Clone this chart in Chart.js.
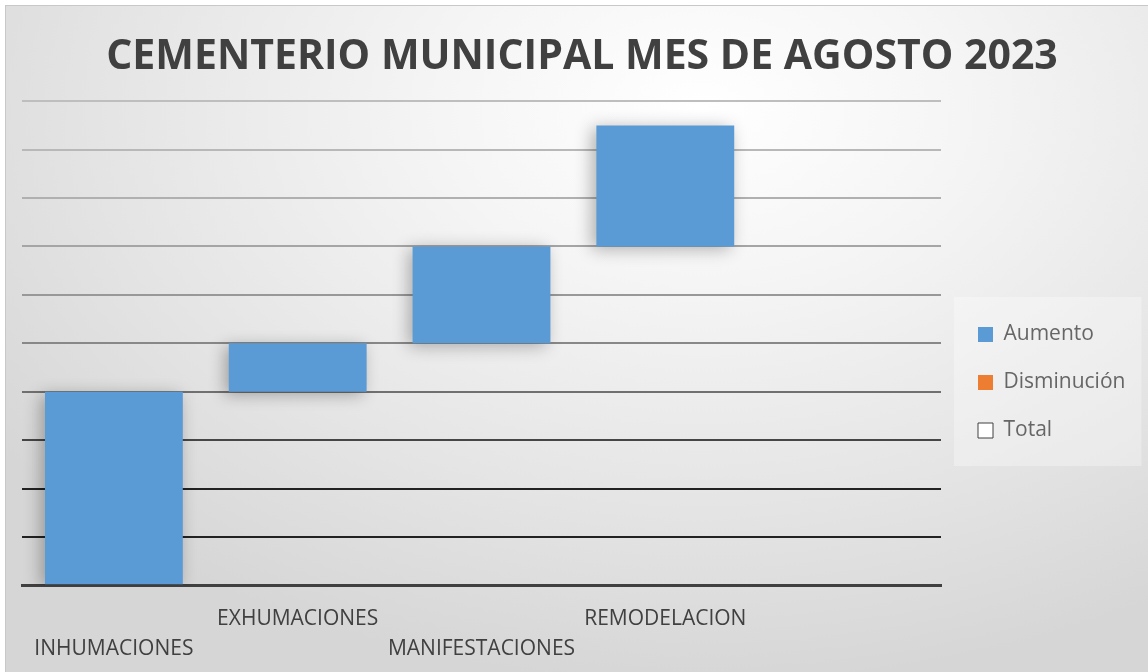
<!DOCTYPE html>
<html>
<head>
<meta charset="utf-8">
<script src="https://cdn.jsdelivr.net/npm/chart.js@4"></script>
<style>
  html, body { margin: 0; padding: 0; overflow: hidden; background: #ffffff; }
  #wrap {
    position: absolute; left: 5px; top: 5px; width: 1160px; height: 680px;
    border: 1px solid #c8c8c8;
    background: radial-gradient(ellipse 75% 85% at 60% 15%, #ffffff 0%, #f5f5f5 30%, #e4e4e4 70%, #d6d6d6 100%);
  }
</style>
</head>
<body>
<div id="wrap"><canvas id="myChart" width="1160" height="680"></canvas></div>
<script>
// 카테고리와 값
const categories = ['INHUMACIONES', 'EXHUMACIONES', 'MANIFESTACIONES', 'REMODELACION', ''];
const increments = [4, 1, 2, 2.5, null];
const legendNames = ['Aumento', 'Disminución', 'Total'];
const legendColors = ['#5b9bd5', '#ed7d31', '#ffffff'];

// 눈금선 회색 (아래 -> 위)
const gridGray = [64, 34, 34, 70, 112, 136, 152, 165, 176, 184, 190];

// 폭포형 막대 (시작, 끝)
let running = 0;
const floating = increments.map(v => {
    if (v === null) return null;
    const bar = [running, running + v];
    running += v;
    return bar;
});

const LEGEND_WIDTH = 201;
const LEGEND_SHIFT = 10;

// 범례 폭 고정 + 오른쪽으로 이동
const legendFit = {
    id: 'legendFit',
    afterInit(chart) {
        const lg = chart.legend;
        const fit = lg.fit.bind(lg);
        lg.fit = function () {
            fit();
            this.width = LEGEND_WIDTH;
        };
        const draw = lg.draw.bind(lg);
        lg.draw = function () {
            chart.ctx.save();
            chart.ctx.translate(LEGEND_SHIFT, 0);
            draw();
            chart.ctx.restore();
        };
    }
};

// 막대 그림자
const shadowPlugin = {
    id: 'barShadow',
    beforeDatasetsDraw(chart) {
        const c = chart.ctx;
        c.save();
        c.shadowColor = 'rgba(0,0,0,0.3)';
        c.shadowBlur = 16;
        c.shadowOffsetX = -4;
        c.shadowOffsetY = 3;
    },
    afterDatasetsDraw(chart) {
        chart.ctx.restore();
    }
};

// 범례 배경
const legendBox = {
    id: 'legendBox',
    beforeDraw(chart) {
        const boxes = chart.legend.legendHitBoxes;
        if (!boxes || !boxes.length) return;
        const first = boxes[0];
        const last = boxes[boxes.length - 1];
        const right = Math.max(...boxes.map(b => b.left + b.width));
        const c = chart.ctx;
        c.save();
        c.fillStyle = 'rgba(255,255,255,0.3)';
        c.fillRect(first.left - 24 + LEGEND_SHIFT, first.top - 27, right - first.left + 40, last.top + last.height - first.top + 52);
        c.restore();
    }
};

const ctx = document.getElementById('myChart');
const myChart = new Chart(ctx, {
    type: 'bar',
    data: {
        labels: categories,
        datasets: [{
            label: 'Aumento',
            data: floating,
            backgroundColor: '#5b9bd5',
            borderWidth: 0,
            barPercentage: 0.75,
            categoryPercentage: 1
        }]
    },
    options: {
        responsive: false,
        animation: false,
        layout: { padding: { left: 16, right: 24, top: 10, bottom: 11 } },
        scales: {
            x: {
                grid: { display: false },
                border: { display: true, color: '#404040', width: 3 },
                ticks: {
                    autoSkip: false,
                    maxRotation: 0,
                    minRotation: 0,
                    padding: 11,
                    color: '#404040',
                    font: { family: 'Open Sans', size: 21, lineHeight: 1.42 },
                    callback: function (value, index) {
                        const name = categories[index];
                        return index % 2 === 0 ? ['', name] : [name, ''];
                    }
                }
            },
            y: {
                min: 0,
                max: 10,
                ticks: { display: false, stepSize: 1 },
                border: { display: false },
                grid: {
                    drawTicks: false,
                    lineWidth: 2,
                    color: function (context) {
                        const g = gridGray[Math.round(context.tick.value)];
                        return 'rgb(' + g + ',' + g + ',' + g + ')';
                    }
                }
            }
        },
        plugins: {
            title: {
                display: true,
                text: 'CEMENTERIO MUNICIPAL MES DE AGOSTO 2023',
                color: '#404040',
                font: { family: 'Open Sans', size: 41, weight: 'bold' },
                padding: { top: 17, bottom: 19 }
            },
            legend: {
                display: true,
                position: 'right',
                title: {
                    display: true,
                    text: '',
                    font: { size: 10, lineHeight: 1 },
                    padding: { top: 0, bottom: 64 }
                },
                labels: {
                    color: '#404040',
                    font: { family: 'Open Sans', size: 21 },
                    boxWidth: 15,
                    boxHeight: 15,
                    padding: 27,
                    generateLabels: function () {
                        return legendNames.map((n, i) => ({
                            text: n,
                            fillStyle: legendColors[i],
                            strokeStyle: i === 2 ? '#404040' : legendColors[i],
                            lineWidth: i === 2 ? 1 : 0,
                            hidden: false,
                            datasetIndex: 0
                        }));
                    }
                }
            },
            tooltip: { enabled: false }
        }
    },
    plugins: [legendFit, shadowPlugin, legendBox]
});
</script>
</body>
</html>
